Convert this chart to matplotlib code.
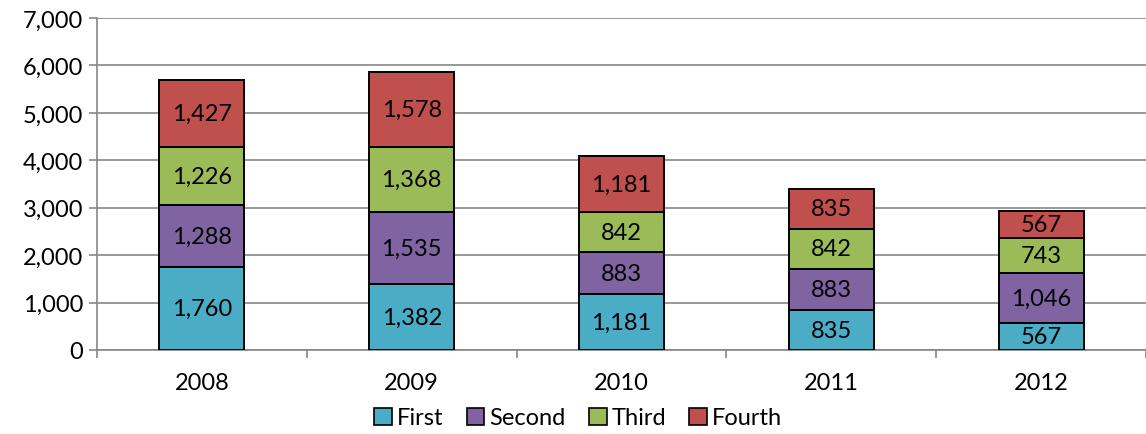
import matplotlib
matplotlib.use("Agg")
import matplotlib.pyplot as plt
import numpy as np
from matplotlib.patches import Patch

years = ["2008", "2009", "2010", "2011", "2012"]
first = [1760, 1382, 1181, 835, 567]
second = [1288, 1535, 883, 883, 1046]
third = [1226, 1368, 842, 842, 743]
fourth = [1427, 1578, 1181, 835, 567]

series_names = ["First", "Second", "Third", "Fourth"]
series_colors = ["#4BACC6", "#8064A2", "#9BBB59", "#C0504D"]

plt.rcParams['font.family'] = ['Lato', 'DejaVu Sans']

fig = plt.figure(figsize=(11.46, 4.35), dpi=100)
ax = fig.add_axes([97/1146, 84/435, 1049/1146, 332/435])

grey = "#868686"
fs = 17
x = np.arange(len(years))
bottom = np.zeros(len(years))
for vals, name, col in zip([first, second, third, fourth], series_names, series_colors):
    ax.bar(x, vals, width=0.405, bottom=bottom, color=col,
           edgecolor="black", linewidth=1.4, label=name, zorder=3)
    for xi, b, v in zip(x, bottom, vals):
        ax.text(xi, b + v/2, f"{v:,}", ha="center", va="center",
                fontsize=fs, color="black", zorder=4)
    bottom += np.array(vals)

ax.set_xlim(-0.5, 4.5)
ax.set_ylim(0, 7000)
ax.set_yticks(range(0, 7001, 1000))
ax.set_yticklabels([f"{v:,}" for v in range(0, 7001, 1000)], fontsize=fs)
ax.yaxis.grid(True, color=grey, linewidth=1.2, zorder=0)

ax.set_xticks(x)
ax.set_xticklabels(years, fontsize=fs)
ax.set_xticks(np.arange(-0.5, 5.0, 1.0), minor=True)
ax.tick_params(axis="x", which="major", length=0, pad=16)
ax.tick_params(axis="x", which="minor", length=6, color=grey, width=1.2, direction="out")
ax.tick_params(axis="y", length=6, color=grey, width=1.2, direction="out", pad=4)

for side in ["top", "right"]:
    ax.spines[side].set_visible(False)
for side in ["left", "bottom"]:
    ax.spines[side].set_color(grey)
    ax.spines[side].set_linewidth(1.2)

handles = [Patch(facecolor=c, edgecolor="black", linewidth=1.2, label=n)
           for n, c in zip(series_names, series_colors)]
fig.legend(handles=handles, loc="center", bbox_to_anchor=(578/1146, 1 - 419/435),
           ncol=4, frameon=False, fontsize=fs, handlelength=0.75, handleheight=0.75,
           handletextpad=0.2, columnspacing=1.0, borderpad=0)

fig.savefig("out.png", dpi=100)
